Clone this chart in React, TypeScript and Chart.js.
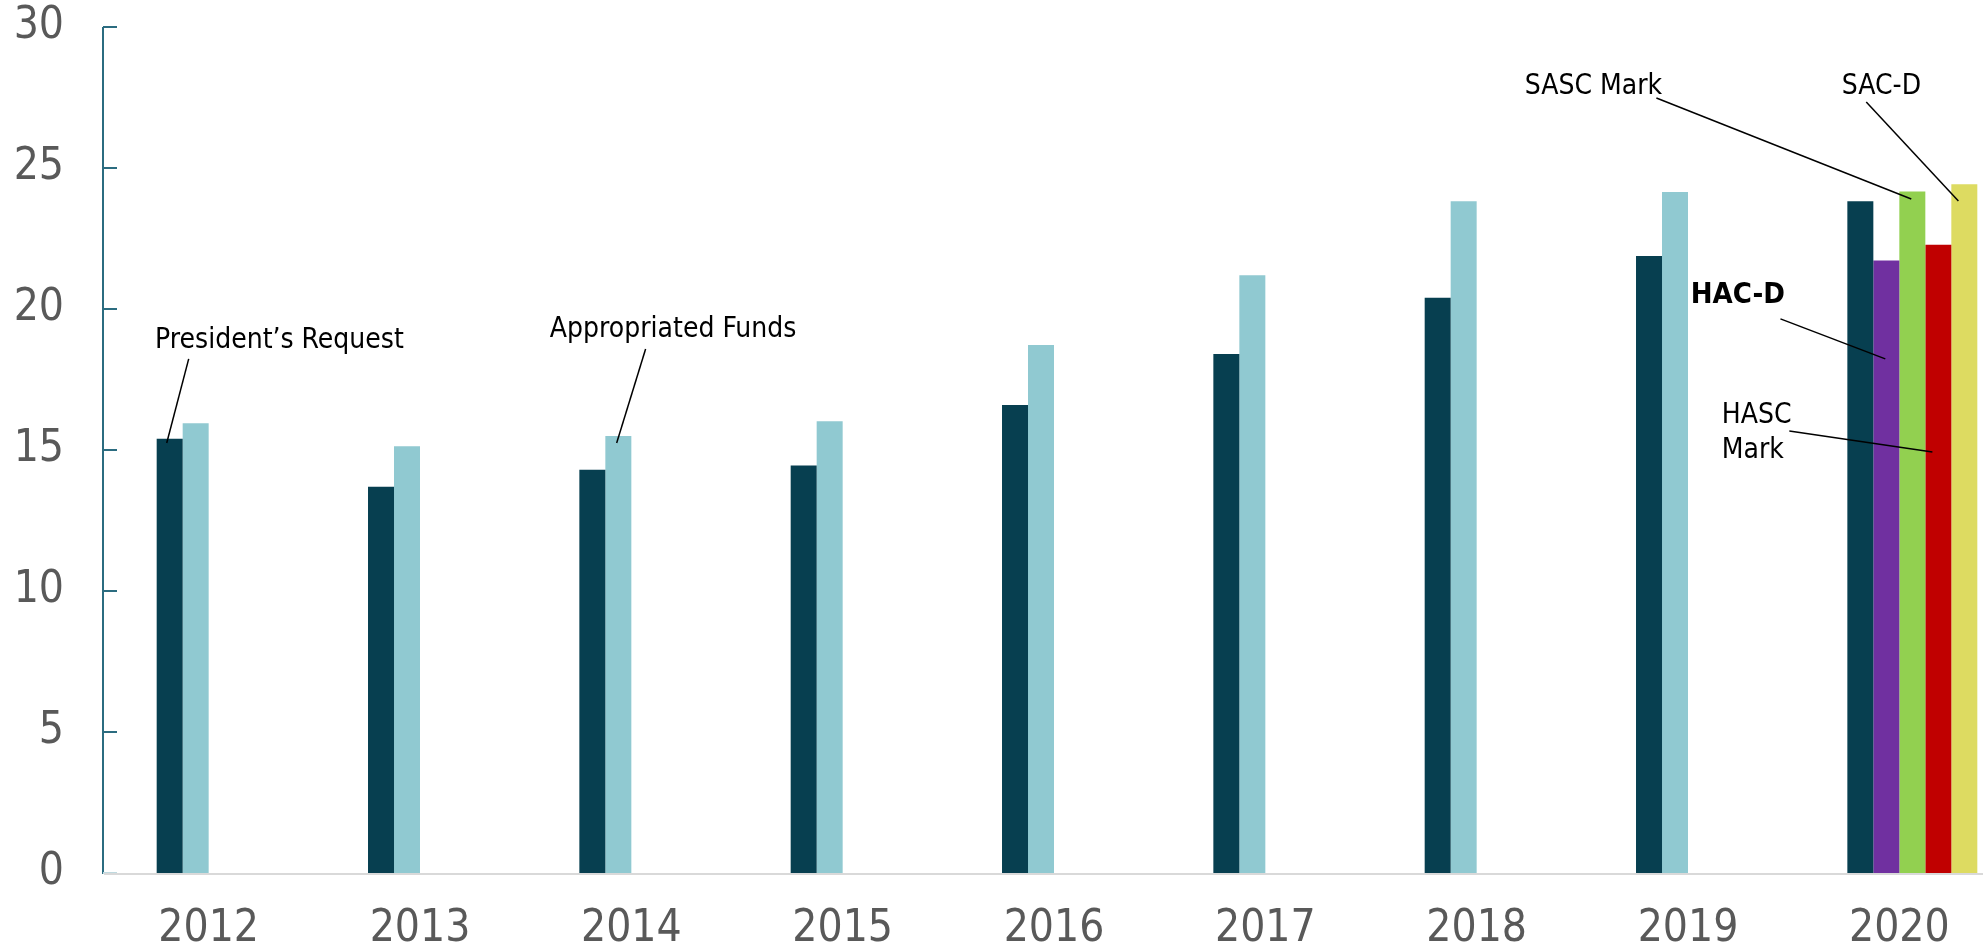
import React, { useEffect, useRef } from "react";
import { Chart, registerables } from "chart.js";

Chart.register(...registerables);

// ---- data ----
const years = ["2012", "2013", "2014", "2015", "2016", "2017", "2018", "2019", "2020"];
const presidentsRequest = [15.4, 13.7, 14.3, 14.45, 16.6, 18.4, 20.4, 21.88, 23.82];
const appropriatedFunds = [15.95, 15.13, 15.5, 16.02, 18.72, 21.2, 23.82, 24.15, null];
const hacD = [null, null, null, null, null, null, null, null, 21.72];
const sascMark = [null, null, null, null, null, null, null, null, 24.17];
const hascMark = [null, null, null, null, null, null, null, null, 22.28];
const sacD = [null, null, null, null, null, null, null, null, 24.42];

const yMin = 0;
const yMax = 30;
const yStep = 5;

// annotation callouts, positioned in data units: [category position, value]
const noteLabels = [["President’s Request"], ["Appropriated Funds"], ["SASC Mark"], ["SAC-D"], ["HAC-D"], ["HASC", "Mark"]];
const noteBold = [false, false, false, false, true, false];
const noteTextAt = [[-0.315, 18.62], [1.553, 19.01], [6.166, 27.62], [7.666, 27.62], [6.951, 20.21], [7.098, 15.96]];
const noteLineFrom = [[-0.156, 18.23], [2.006, 18.58], [6.789, 27.48], [7.782, 27.34], [7.376, 19.65], [7.418, 15.67]];
const noteLineTo = [[-0.26, 15.25], [1.869, 15.25], [7.995, 23.9], [8.218, 23.83], [7.872, 18.23], [8.095, 14.93]];

const FONT = "'DejaVu Sans Condensed', 'Liberation Sans', Arial, sans-serif";

const axisPlugin = {
  id: "customAxes",
  afterDatasetsDraw(chart: any) {
    const { ctx, chartArea, scales } = chart;
    const y = scales.y;
    const axisX = chartArea.left - 13;
    ctx.save();
    // y axis line
    ctx.strokeStyle = "#2B6C80";
    ctx.lineWidth = 2;
    ctx.beginPath();
    ctx.moveTo(axisX, y.getPixelForValue(yMax));
    ctx.lineTo(axisX, chartArea.bottom + 1);
    ctx.stroke();
    // inward ticks
    for (let v = yMin; v <= yMax; v += yStep) {
      const py = y.getPixelForValue(v);
      ctx.strokeStyle = v === yMin ? "#BFD9DF" : "#2B6C80";
      ctx.beginPath();
      ctx.moveTo(axisX, py);
      ctx.lineTo(axisX + 14, py);
      ctx.stroke();
    }
    // x axis line
    ctx.strokeStyle = "#D9D9D9";
    ctx.lineWidth = 2;
    ctx.beginPath();
    ctx.moveTo(axisX + 1, chartArea.bottom + 1);
    ctx.lineTo(chartArea.right, chartArea.bottom + 1);
    ctx.stroke();
    ctx.restore();
  },
};

const notesPlugin = {
  id: "callouts",
  afterDraw(chart: any) {
    const { ctx, scales } = chart;
    const x = scales.x;
    const y = scales.y;
    ctx.save();
    ctx.fillStyle = "#000000";
    ctx.strokeStyle = "#000000";
    ctx.lineWidth = 1.5;
    ctx.textAlign = "left";
    ctx.textBaseline = "alphabetic";
    for (let i = 0; i < noteLabels.length; i++) {
      ctx.font = (noteBold[i] ? "bold 29px " : "28px ") + FONT;
      const tx = x.getPixelForValue(noteTextAt[i][0]);
      const ty = y.getPixelForValue(noteTextAt[i][1]);
      noteLabels[i].forEach((line, k) => ctx.fillText(line, tx, ty + k * 35));
      ctx.beginPath();
      ctx.moveTo(x.getPixelForValue(noteLineFrom[i][0]), y.getPixelForValue(noteLineFrom[i][1]));
      ctx.lineTo(x.getPixelForValue(noteLineTo[i][0]), y.getPixelForValue(noteLineTo[i][1]));
      ctx.stroke();
    }
    ctx.restore();
  },
};

export default function App() {
  const canvasRef = useRef<HTMLCanvasElement | null>(null);

  useEffect(() => {
    if (!canvasRef.current) return;
    const bar = (label: string, data: (number | null)[], color: string, stack: string) => ({
      label,
      data,
      backgroundColor: color,
      borderWidth: 0,
      stack,
      categoryPercentage: 0.615,
      barPercentage: 1.0,
    });
    const chart = new Chart(canvasRef.current, {
      type: "bar",
      data: {
        labels: years,
        datasets: [
          bar("President’s Request", presidentsRequest, "#073F50", "s0"),
          bar("Appropriated Funds", appropriatedFunds, "#90C9D1", "s1"),
          bar("HAC-D", hacD, "#7030A0", "s1"),
          bar("SASC Mark", sascMark, "#92D050", "s2"),
          bar("HASC Mark", hascMark, "#C00000", "s3"),
          bar("SAC-D", sacD, "#DDDB61", "s4"),
        ],
      },
      options: {
        animation: false,
        responsive: false,
        maintainAspectRatio: false,
        layout: { padding: { top: 27, left: 0, right: 0, bottom: 0 } },
        plugins: {
          legend: { display: false },
          tooltip: { enabled: false },
        },
        scales: {
          x: {
            stacked: true,
            grid: { display: false, drawTicks: false },
            border: { display: false },
            ticks: {
              color: "#595959",
              font: { family: FONT, size: 44 },
              padding: 30,
              labelOffset: -13,
              maxRotation: 0,
              autoSkip: false,
            },
            afterFit: (scale: any) => {
              scale.height = 73;
              scale.paddingLeft = 0;
              scale.paddingRight = 0;
            },
          },
          y: {
            stacked: true,
            min: yMin,
            max: yMax,
            grid: { display: false, drawTicks: false },
            border: { display: false },
            ticks: {
              stepSize: yStep,
              color: "#595959",
              font: { family: FONT, size: 44 },
              padding: 52,
            },
            afterFit: (scale: any) => {
              scale.width = 116;
              scale.paddingTop = 0;
              scale.paddingBottom = 0;
            },
          },
        },
      },
      plugins: [axisPlugin, notesPlugin],
    });
    return () => chart.destroy();
  }, []);

  return (
    <div
      style={{
        position: "absolute",
        left: 0,
        top: 0,
        width: 1983,
        height: 946,
        overflow: "hidden",
        background: "#ffffff",
      }}
    >
      <canvas ref={canvasRef} width={2018} height={946} style={{ width: 2018, height: 946, display: "block" }} />
    </div>
  );
}
